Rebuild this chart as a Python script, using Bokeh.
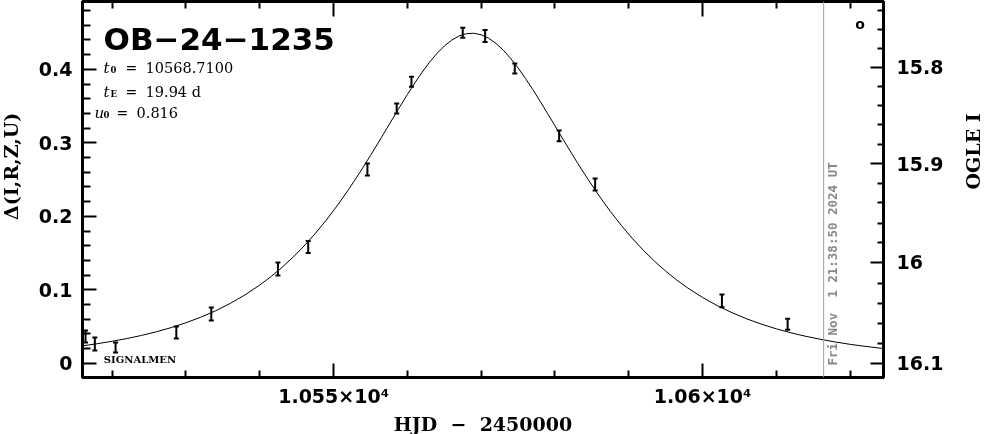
import math
from bokeh.plotting import figure
from bokeh.models import (Range1d, LinearAxis, FixedTicker, Label, Span, Whisker,
                          TeeHead, ColumnDataSource, CustomJSTickFormatter)
from bokeh.embed import file_html
from bokeh.resources import INLINE

# ---------------- data ----------------
event_name = "OB\u221224\u22121235"
par_t0 = "10568.7100"
par_tE = "19.94 d"
par_u0 = "0.816"

obs_hjd = [10516.39, 10517.65, 10520.46, 10528.69, 10533.43, 10542.46, 10546.56,
           10554.58, 10558.55, 10560.55, 10567.50, 10570.53, 10574.55, 10580.56,
           10585.44, 10602.62, 10611.52]
obs_delta = [0.0365, 0.0263, 0.0215, 0.0419, 0.0671, 0.1283, 0.1582,
             0.2637, 0.3467, 0.3830, 0.4497, 0.4453, 0.4011, 0.3095,
             0.2433, 0.0850, 0.0531]
obs_err = [0.0082, 0.0088, 0.0068, 0.0082, 0.0088, 0.0088, 0.0082,
           0.0082, 0.0068, 0.0068, 0.0068, 0.0082, 0.0068, 0.0072,
           0.0082, 0.0086, 0.0075]

# model light curve
model_hjd = [10516.0, 10518.0, 10520.0, 10522.0, 10524.0, 10526.0, 10528.0, 10530.0,
             10532.0, 10534.0, 10536.0, 10538.0, 10540.0, 10541.5, 10543.0, 10544.5,
             10546.0, 10547.5, 10549.0, 10550.5, 10552.0, 10553.5, 10555.0, 10556.5,
             10558.0, 10559.0, 10560.0, 10561.0, 10562.0, 10563.0, 10564.0, 10565.0,
             10566.0, 10567.0, 10568.0, 10569.0, 10570.0, 10571.0, 10572.0, 10573.0,
             10574.0, 10575.0, 10576.0, 10577.0, 10578.0, 10579.0, 10580.0, 10581.5,
             10583.0, 10584.5, 10586.0, 10587.5, 10589.0, 10590.5, 10592.0, 10593.5,
             10595.0, 10596.5, 10598.0, 10600.0, 10602.0, 10604.0, 10606.0, 10608.0,
             10610.0, 10612.0, 10614.0, 10616.0, 10618.0, 10620.0, 10622.0, 10624.5]
model_delta = [0.0238, 0.0267, 0.0300, 0.0337, 0.0380, 0.0429, 0.0486, 0.0552,
               0.0627, 0.0714, 0.0815, 0.0931, 0.1065, 0.1178, 0.1304, 0.1443,
               0.1596, 0.1764, 0.1947, 0.2146, 0.2360, 0.2588, 0.2828, 0.3076,
               0.3328, 0.3494, 0.3657, 0.3814, 0.3961, 0.4096, 0.4216, 0.4317,
               0.4397, 0.4454, 0.4485, 0.4491, 0.4470, 0.4424, 0.4353, 0.4260,
               0.4148, 0.4019, 0.3877, 0.3724, 0.3563, 0.3398, 0.3231, 0.2980,
               0.2734, 0.2499, 0.2276, 0.2067, 0.1875, 0.1697, 0.1535, 0.1387,
               0.1254, 0.1133, 0.1024, 0.0896, 0.0784, 0.0688, 0.0604, 0.0532,
               0.0469, 0.0414, 0.0367, 0.0326, 0.0290, 0.0258, 0.0231, 0.0201]

x_major = [10550, 10600]
x_major_labels = ["1.055\u00d710\u2074", "1.06\u00d710\u2074"]
x_minor = [10520, 10530, 10540, 10560, 10570, 10580, 10590, 10610, 10620]
x_title = "HJD\u00a0 \u2212\u00a0 2450000"

y_major = [0.0, 0.1, 0.2, 0.3, 0.4]
y_major_labels = ["0", "0.1", "0.2", "0.3", "0.4"]
y_minor = [0.02, 0.04, 0.06, 0.08, 0.12, 0.14, 0.16, 0.18, 0.22, 0.24, 0.26,
           0.28, 0.32, 0.34, 0.36, 0.38, 0.42, 0.44, 0.46, 0.48]
y_title = "\u0394(I,R,Z,U)"

ogle_major_pos = [0.4029, 0.2714, 0.1376, 0.0004]
ogle_major_labels = ["15.8", "15.9", "16", "16.1"]
ogle_minor_pos = [0.4800, 0.4537, 0.4279, 0.3766, 0.3507, 0.3249, 0.2977,
                  0.2450, 0.2192, 0.1906, 0.1639, 0.1090, 0.0818, 0.0546, 0.0265]
ogle_title = "OGLE I"

now_hjd = 10616.40
now_text = "Fri Nov\u00a0 1 21:38:50 2024 UT"
site_text = "SIGNALMEN"

# ---------------- figure ----------------
X0, X1 = 10515.98, 10624.51
Y0, Y1 = -0.0193, 0.4923

# canvas pinned to the viewport corner; a little of it may run past the window edges
p = figure(width=1008, height=439, x_range=Range1d(X0, X1), y_range=Range1d(Y0, Y1),
           output_backend="svg", toolbar_location=None,
           min_border_left=87, min_border_right=120, min_border_top=1, min_border_bottom=62,
           styles={"position": "fixed", "left": "-5px", "top": "0px"})
p.xgrid.visible = False
p.ygrid.visible = False
p.background_fill_color = "white"
p.border_fill_color = "white"
p.outline_line_color = "black"
p.outline_line_width = 3


def px2x(px):
    return 10550 + (px - 332.9) / 7.376


def py2y(py):
    return (362.8 - py) / 735.0


def labels_fmt(labels):
    return CustomJSTickFormatter(args=dict(labels=labels),
                                 code="return labels[index] !== undefined ? labels[index] : '';")


def style_axis(ax, major_in, minor_in):
    ax.axis_line_width = 3
    ax.axis_line_color = "black"
    ax.major_tick_in = major_in
    ax.major_tick_out = 0
    ax.minor_tick_in = minor_in
    ax.minor_tick_out = 0
    ax.major_tick_line_width = 2
    ax.minor_tick_line_width = 2
    ax.major_tick_line_color = "black"
    ax.minor_tick_line_color = "black"
    ax.major_label_text_font = "DejaVu Sans"
    ax.major_label_text_font_style = "bold"
    ax.major_label_text_font_size = "19px"
    ax.major_label_text_color = "black"
    ax.axis_label_text_font = "DejaVu Serif"
    ax.axis_label_text_font_style = "bold"
    ax.axis_label_text_font_size = "19px"
    ax.axis_label_text_color = "black"


xt = FixedTicker(ticks=x_major, minor_ticks=x_minor)
yt = FixedTicker(ticks=y_major, minor_ticks=y_minor)
ot = FixedTicker(ticks=ogle_major_pos, minor_ticks=ogle_minor_pos)

xa = p.xaxis[0]
xa.ticker = xt
xa.formatter = labels_fmt(x_major_labels)
style_axis(xa, 14, 7)
xa.major_label_standoff = 7
xa.axis_label = x_title
xa.axis_label_standoff = 3

ya = p.yaxis[0]
ya.ticker = yt
ya.formatter = labels_fmt(y_major_labels)
style_axis(ya, 14, 8)
ya.major_label_standoff = 10
ya.axis_label = "\u00a0" * 7 + y_title
ya.axis_label_standoff = 14

top = LinearAxis(ticker=xt, formatter=labels_fmt([]))
style_axis(top, 15, 7)
top.major_label_text_font_size = "0px"
top.major_label_standoff = 0
p.add_layout(top, "above")

right = LinearAxis(ticker=ot, formatter=labels_fmt(ogle_major_labels))
style_axis(right, 13, 6)
right.major_label_standoff = 13
right.axis_label = ogle_title
right.axis_label_standoff = 27
right.axis_label_orientation = math.pi / 2
p.add_layout(right, "right")

# now-line
p.add_layout(Span(location=now_hjd, dimension="height", line_color="#a0a0a0", line_width=1))

# model curve
p.line(model_hjd, model_delta, line_color="black", line_width=1)

# observations
src = ColumnDataSource(dict(
    x=obs_hjd, y=obs_delta,
    lo=[d - e for d, e in zip(obs_delta, obs_err)],
    hi=[d + e for d, e in zip(obs_delta, obs_err)],
))
p.add_layout(Whisker(source=src, base="x", lower="lo", upper="hi", dimension="height",
                     line_color="black", line_width=2,
                     upper_head=TeeHead(size=5, line_width=2, line_color="black"),
                     lower_head=TeeHead(size=5, line_width=2, line_color="black")))

# texts
p.add_layout(Label(x=px2x(103), y=py2y(38.5), text=event_name, text_font="DejaVu Sans",
                   text_font_style="bold", text_font_size="31px", text_baseline="alphabetic",
                   text_color="black"))

rows = [("t", "0", par_t0, 103, 7, 67), ("t", "E", par_tE, 103, 7, 91),
        ("u", "0", par_u0, 94, 9, 112)]
for sym, sub, val, x0, dsub, base in rows:
    p.add_layout(Label(x=px2x(x0), y=py2y(base), text=sym, text_font="DejaVu Serif",
                       text_font_style="italic", text_font_size="15px",
                       text_baseline="alphabetic", text_color="black"))
    p.add_layout(Label(x=px2x(x0 + dsub), y=py2y(base + 2), text=sub, text_font="DejaVu Serif",
                       text_font_style="bold", text_font_size="8.5px",
                       text_baseline="alphabetic", text_color="black"))
    p.add_layout(Label(x=px2x(x0 + 22), y=py2y(base), text="=", text_font="DejaVu Serif",
                       text_font_size="14px", text_baseline="alphabetic", text_color="black"))
    p.add_layout(Label(x=px2x(x0 + 42), y=py2y(base), text=val, text_font="DejaVu Serif",
                       text_font_size="14.5px", text_baseline="alphabetic", text_color="black"))

p.add_layout(Label(x=px2x(103.3), y=py2y(359.3), text=site_text, text_font="DejaVu Serif",
                   text_font_style="bold", text_font_size="10px", text_baseline="alphabetic",
                   text_color="black"))

p.add_layout(Label(x=px2x(831.7), y=py2y(365), text=now_text, angle=math.pi / 2,
                   text_align="left", text_baseline="middle", text_font="DejaVu Sans Mono",
                   text_font_style="bold", text_font_size="12.5px", text_color="#888888"))

p.add_layout(Label(x=px2x(859), y=py2y(23), text="o", text_align="center",
                   text_baseline="middle", text_font="DejaVu Sans", text_font_style="bold",
                   text_font_size="14px", text_color="black"))

open("out.html", "w").write(file_html(p, INLINE))
